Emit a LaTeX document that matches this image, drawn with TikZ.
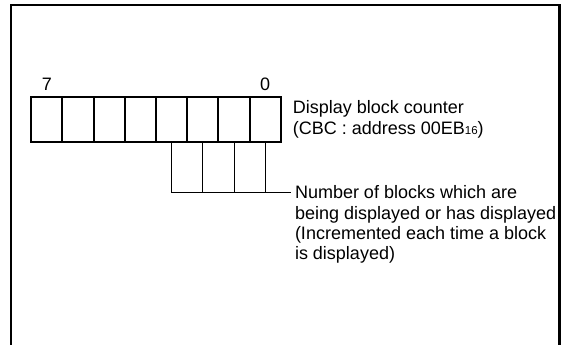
\documentclass[tikz,border=0pt]{standalone}
\usepackage{fontspec}
\setmainfont{Liberation Sans}
\usetikzlibrary{positioning}

\begin{document}
\begin{tikzpicture}[
    x=1pt, y=-1pt,
    node distance=0pt,
    cell/.style={rectangle, draw, line width=2pt, minimum width=31.2pt,
                 minimum height=45pt, inner sep=0pt, outer sep=0pt},
    bitnum/.style={font=\fontsize{18}{20}\selectfont, inner sep=0pt, outer sep=0pt},
    desc/.style={font=\fontsize{18}{20.3}\selectfont, align=left,
                 inner sep=0pt, outer sep=0pt},
    tie/.style={line width=1pt},
    frame/.style={line width=2.5pt}
]
\useasboundingbox (0,0) rectangle (562,345);

% Outer frame (open at the bottom)
\draw[frame] (11,346) -- (11,5) -- (559.5,5) -- (559.5,346);

% Register: bits 7 ... 0
\node[cell] (b7) at (46.8,119.2) {};
\node[cell, right=of b7] (b6) {};
\node[cell, right=of b6] (b5) {};
\node[cell, right=of b5] (b4) {};
\node[cell, right=of b4] (b3) {};
\node[cell, right=of b3] (b2) {};
\node[cell, right=of b2] (b1) {};
\node[cell, right=of b1] (b0) {};

% Bit numbers
\node[bitnum, above=6pt of b7] (n7) {7};
\node[bitnum, above=6pt of b0] (n0) {0};

% Register name
\node[desc, right=12pt of b0] (cbc) {Display block counter\\
    (CBC : address 00EB\raisebox{-0.5pt}{\fontsize{11.5}{12}\selectfont 16})};

% Bits 3 to 0
\coordinate (tieend) at (290.7,192);
\draw[tie] (b3.south) |- (tieend);
\draw[tie] (b2.south) -- (b2.south |- tieend);
\draw[tie] (b1.south) -- (b1.south |- tieend);
\draw[tie] (b0.south) -- (b0.south |- tieend);

\node[desc, anchor=north west] (blocks) at ([xshift=4.3pt, yshift=6.1pt]tieend)
    {Number of blocks which are\\
     being displayed or has displayed\\
     (Incremented each time a block\\
     is displayed)};
\end{tikzpicture}
\end{document}
